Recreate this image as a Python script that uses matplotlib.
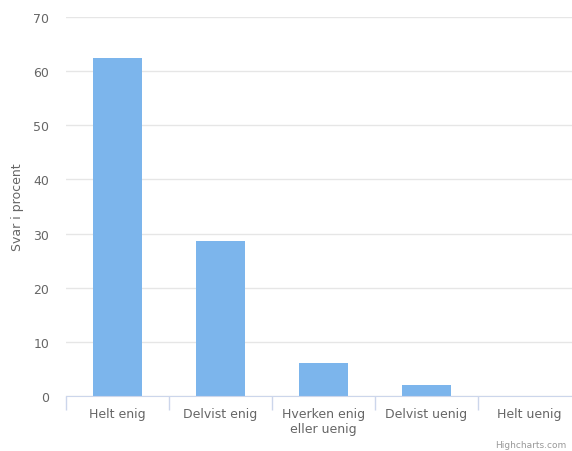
import matplotlib
matplotlib.use("Agg")
import matplotlib.pyplot as plt
import numpy as np

# Data
categories = ["Helt enig", "Delvist enig", "Hverken enig\neller uenig",
              "Delvist uenig", "Helt uenig"]
values = [62.5, 28.6, 6.1, 2.1, 0.0]
y_ticks = [0, 10, 20, 30, 40, 50, 60, 70]

BAR_COLOR = "#7cb5ec"
GRID_COLOR = "#e6e6e6"
AXIS_COLOR = "#ccd6eb"
TEXT_COLOR = "#666666"

plt.rcParams["font.family"] = ["DejaVu Sans"]

fig = plt.figure(figsize=(5.72, 4.52), dpi=100)
ax = fig.add_axes([66 / 572, 55 / 452, 515 / 572, 379 / 452])

x = np.arange(len(categories))
ax.bar(x, values, width=0.48, color=BAR_COLOR, zorder=3)

ax.set_xlim(-0.5, len(categories) - 0.5)
ax.set_ylim(0, 70)
ax.set_yticks(y_ticks)
ax.yaxis.grid(True, color=GRID_COLOR, linewidth=1, zorder=0)
ax.set_axisbelow(True)

# category ticks at boundaries, labels at centers
ax.set_xticks(np.arange(-0.5, len(categories) + 0.5, 1.0))
ax.set_xticklabels([])
ax.set_xticks(x, minor=True)
ax.set_xticklabels(categories, minor=True, fontsize=9, color=TEXT_COLOR,
                   linespacing=1.2)
ax.tick_params(axis="x", which="major", length=10, color=AXIS_COLOR, width=1)
ax.tick_params(axis="x", which="minor", length=0, pad=8)
ax.tick_params(axis="y", length=0, labelsize=9, labelcolor=TEXT_COLOR, pad=12)

for side in ["top", "right", "left"]:
    ax.spines[side].set_visible(False)
ax.spines["bottom"].set_color(AXIS_COLOR)
ax.spines["bottom"].set_zorder(4)

ax.set_ylabel("Svar i procent", fontsize=9, color=TEXT_COLOR, labelpad=7)

fig.text(566 / 572, 1 - 446 / 452, "Highcharts.com", fontsize=6.5, color="#999999",
         ha="right", va="center")

fig.savefig("out.png", dpi=100)
